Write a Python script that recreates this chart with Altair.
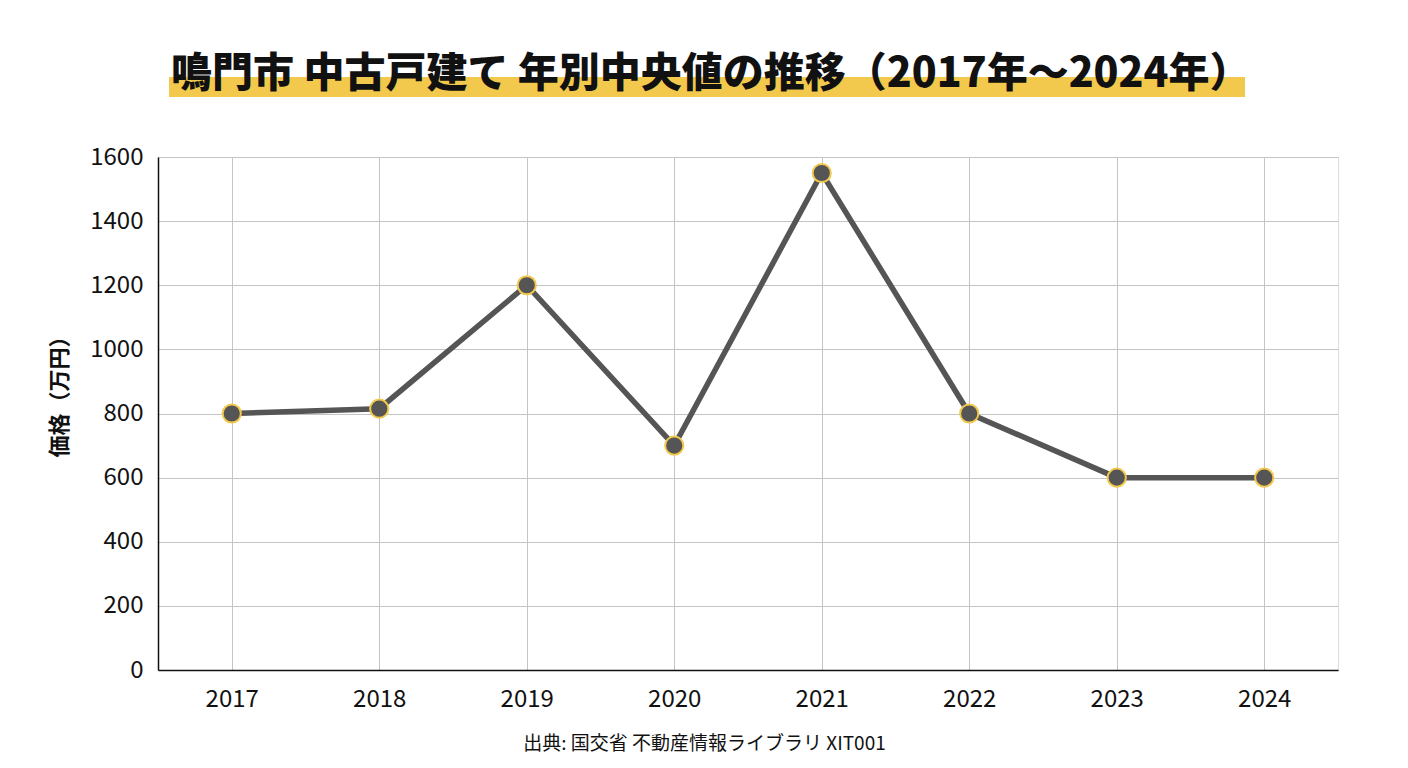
import altair as alt
import pandas as pd

years = ["2017", "2018", "2019", "2020", "2021", "2022", "2023", "2024"]
prices = [800, 815, 1200, 700, 1550, 800, 600, 600]
y_ticks = [0, 200, 400, 600, 800, 1000, 1200, 1400, 1600]

title_text = "鳴門市 中古戸建て 年別中央値の推移（2017年〜2024年）"
y_title = "価格（万円）"
source_text = "出典: 国交省 不動産情報ライブラリ XIT001"

FONT = "Noto Sans CJK JP"
LINE = "#555555"
YELLOW = "#F2C94C"

df = pd.DataFrame({"年": years, "価格": prices})

base = alt.Chart(df).encode(
    x=alt.X(
        "年:O",
        scale=alt.Scale(type="point", padding=0.5),
        axis=alt.Axis(
            title=source_text,
            labelAngle=0,
            labelFontSize=24,
            labelFont=FONT,
            labelColor="#111111",
            labelPadding=17,
            ticks=False,
            domainColor="#111111",
            domainWidth=1.5,
            grid=True,
            gridColor="#c4c4c4",
            titleFont=FONT,
            titleFontSize=19,
            titleFontWeight="normal",
            titleColor="#111111",
            titleX=546,
            titlePadding=23,
        ),
    ),
    y=alt.Y(
        "価格:Q",
        scale=alt.Scale(domain=[0, 1600], nice=False),
        axis=alt.Axis(
            values=y_ticks,
            format="d",
            title=y_title,
            labelFontSize=24,
            labelFont=FONT,
            labelColor="#111111",
            labelPadding=15,
            ticks=False,
            domainColor="#111111",
            domainWidth=1.5,
            gridColor="#c4c4c4",
            titleFont=FONT,
            titleFontSize=22,
            titleFontWeight="bold",
            titleColor="#111111",
            titlePadding=18,
            titleY=234,
        ),
    ),
)

line = base.mark_line(color=LINE, strokeWidth=5.5)
points = base.mark_circle(
    size=330, fill=LINE, opacity=1, stroke=YELLOW, strokeWidth=2
)

deco = alt.Chart(pd.DataFrame({"k": [0]}))

bar = deco.mark_rect(color=YELLOW).encode(
    x=alt.value(11), x2=alt.value(1087), y=alt.value(-80), y2=alt.value(-60)
)

title = deco.mark_text(
    text=title_text,
    font=FONT,
    fontSize=41,
    fontWeight=900,
    color="#111111",
    align="left",
    baseline="alphabetic",
).encode(x=alt.value(13), y=alt.value(-70))

chart = (
    alt.layer(bar, title, line, points)
    .properties(
        width=1180,
        height=513,
        padding={"left": 150, "top": 149, "right": 62, "bottom": 90},
        autosize=alt.AutoSizeParams(type="none"),
    )
    .configure_view(stroke=None)
    .configure(background="white")
)

chart.save("out.html", embed_options={"renderer": "svg", "actions": False})
